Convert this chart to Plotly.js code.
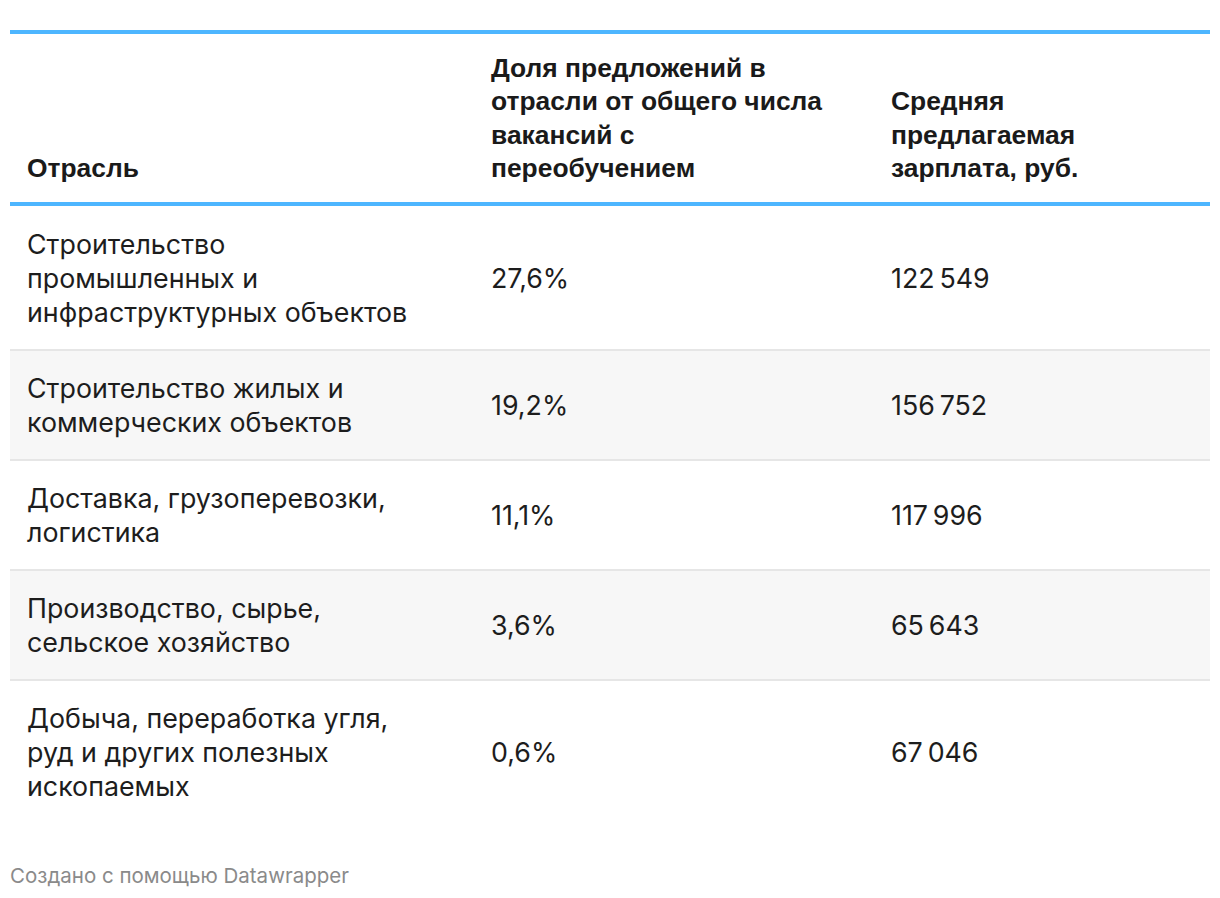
<!DOCTYPE html>
<html>
<head>
<meta charset="utf-8">
<script src="https://cdn.plot.ly/plotly-3.0.1.min.js"></script>
<style>html,body{margin:0;padding:0;background:#fff;}#chart{width:1220px;height:898px;}</style>
</head>
<body>
<div id="chart"></div>
<script>
// ---- data ----
const headers = [
  "Отрасль",
  "Доля предложений в\nотрасли от общего числа\nвакансий с\nпереобучением",
  "Средняя\nпредлагаемая\nзарплата, руб."
];
const industries = [
  "Строительство\nпромышленных и\nинфраструктурных объектов",
  "Строительство жилых и\nкоммерческих объектов",
  "Доставка, грузоперевозки,\nлогистика",
  "Производство, сырье,\nсельское хозяйство",
  "Добыча, переработка угля,\nруд и других полезных\nископаемых"
];
const shares = [27.6, 19.2, 11.1, 3.6, 0.6];
const salaries = [122549, 156752, 117996, 65643, 67046];
const footer = "Создано с помощью Datawrapper";

// ---- formatting ----
function fmtShare(v){ return v.toFixed(1).replace('.', ',') + '%'; }
function fmtSalary(v){ return String(v).replace(/\B(?=(\d{3})+(?!\d))/g, '\u2009'); }

// ---- layout constants ----
const W = 1220, H = 898;
const left = 10, right = 1210;
const colX = [25, 489, 889];
const topLine = 32, headBottom = 204;
const lineH = 34, rowPad = 42, headLineH = 33.4;
const blue = 'rgb(77,182,255)';
const bodyFont = {family: 'Inter, Roboto, sans-serif', size: 26.8, color: '#1d1d1d'};
const headFont = {family: 'Liberation Sans, Arial, sans-serif', size: 26.4, color: '#1a1a1a', weight: 700};

const shapes = [];
const annotations = [];

function addText(x, y, text, font){
  annotations.push({x: x, y: y, xref: 'x', yref: 'y', text: text, showarrow: false,
    xanchor: 'left', yanchor: 'middle', align: 'left', font: font});
}

// header text (bottom aligned)
headers.forEach((h, c) => {
  const lines = h.split('\n');
  const lastY = headBottom - 36;
  lines.forEach((ln, i) => addText(colX[c], lastY - (lines.length - 1 - i) * headLineH, ln, headFont));
});

// rows
let y = headBottom + 2;
industries.forEach((ind, r) => {
  const lines = ind.split('\n');
  const h = lines.length * lineH + rowPad;
  if (r % 2 === 1) {
    shapes.push({type: 'rect', xref: 'x', yref: 'y', x0: left, x1: right, y0: y, y1: y + h,
      fillcolor: '#f7f7f7', line: {width: 0}, layer: 'below'});
  }
  lines.forEach((ln, i) => addText(colX[0], y + rowPad / 2 + lineH / 2 + i * lineH, ln, bodyFont));
  addText(colX[1], y + h / 2, fmtShare(shares[r]), bodyFont);
  addText(colX[2], y + h / 2, fmtSalary(salaries[r]), bodyFont);
  if (r < industries.length - 1) {
    shapes.push({type: 'line', xref: 'x', yref: 'y', x0: left, x1: right, y0: y + h, y1: y + h,
      line: {color: '#e6e6e6', width: 2}});
  }
  y += h;
});

// blue rules
[topLine, headBottom].forEach(yy => shapes.push({type: 'line', xref: 'x', yref: 'y',
  x0: left, x1: right, y0: yy, y1: yy, line: {color: blue, width: 4}}));

// footer
addText(left - 2, 875, footer, {family: 'Inter, Roboto, sans-serif', size: 20.5, color: '#8a8a8a'});

Plotly.newPlot('chart', [{type: 'scatter', x: [], y: [], mode: 'markers', hoverinfo: 'skip'}], {
  width: W, height: H,
  margin: {l: 0, r: 0, t: 0, b: 0},
  paper_bgcolor: '#fff', plot_bgcolor: '#fff',
  showlegend: false,
  xaxis: {range: [0, W], visible: false, fixedrange: true},
  yaxis: {range: [H, 0], visible: false, fixedrange: true},
  shapes: shapes,
  annotations: annotations
}, {displayModeBar: false, staticPlot: true});
</script>
</body>
</html>
